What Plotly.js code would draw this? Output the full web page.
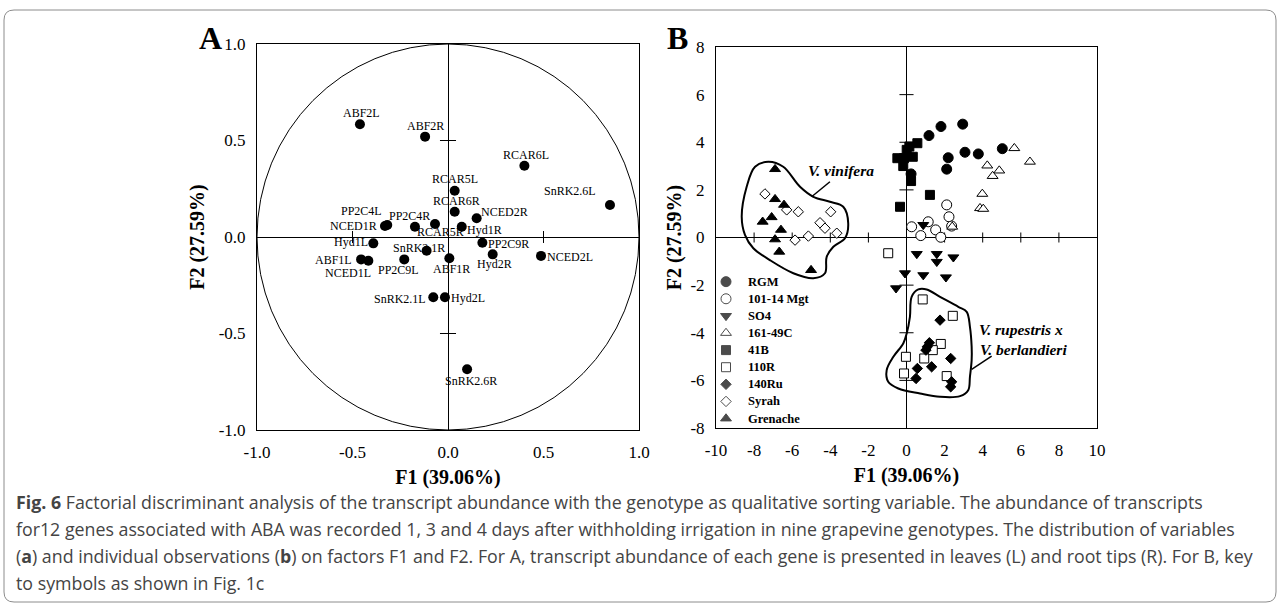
<!DOCTYPE html>
<html><head><meta charset="utf-8">
<script src="https://cdn.plot.ly/plotly-3.0.1.min.js"></script>
<style>html,body{margin:0;padding:0;background:#fff;} #chart{width:1281px;height:607px;}</style>
</head><body><div id="chart"></div>
<script>
// ---------- Panel A: variables on F1 / F2 ----------
const genesA = ['ABF2L','ABF2R','RCAR6L','SnRK2.6L','RCAR5L','RCAR6R','PP2C4L','NCED1R','PP2C4R','RCAR5R','Hyd1R','NCED2R','PP2C9R','Hyd2R','NCED2L','SnRK2.1R','ABF1R','PP2C9L','Hyd1L','ABF1L','NCED1L','SnRK2.1L','Hyd2L','SnRK2.6R'];
const f1A = [-0.461,-0.120,0.400,0.848,0.035,0.035,-0.318,-0.330,-0.173,-0.068,0.072,0.150,0.180,0.234,0.487,-0.112,0.007,-0.229,-0.391,-0.455,-0.417,-0.077,-0.016,0.100];
const f2A = [0.584,0.520,0.369,0.166,0.240,0.131,0.062,0.057,0.053,0.067,0.053,0.097,-0.030,-0.090,-0.098,-0.071,-0.110,-0.116,-0.033,-0.116,-0.123,-0.312,-0.312,-0.685];
// label offsets from each point (px, right / down)
const labelDx = [2,0,2,-40,0,2,-26,-31,-5,5,23,28,26,2,29,-8,2,-6,-22,-28,-20,-33,23,4];
const labelDy = [-11,-11,-11,-14,-12,-11,-14,0,-11,8,3,-6,1,10,1,-3,11,11,-1,1,12,2,1,12];
const tickValsA = [-1,-0.5,0,0.5,1];
const tickTextA = ['-1.0','-0.5','0.0','0.5','1.0'];
const crossTicksA = [-0.5,0.5];

// ---------- Panel B: observations on F1 / F2 ----------
const genotypes = ['RGM','101-14 Mgt','SO4','161-49C','41B','110R','140Ru','Syrah','Grenache'];
const rgmX = [1.18,1.81,2.95,2.19,2.11,3.07,3.77,5.03,0.24];
const rgmY = [4.28,4.66,4.76,3.35,2.87,3.58,3.51,3.73,2.67];
const mgtX = [2.11,2.23,1.14,0.27,0.75,1.53,1.80,2.37];
const mgtY = [1.37,0.87,0.66,0.45,0.08,0.32,0.01,0.48];
const so4X = [0.88,0.54,1.59,1.59,2.46,-0.08,0.88,2.07,-0.55];
const so4Y = [0.53,-0.69,-0.69,-1.02,-0.83,-1.50,-1.58,-1.67,-2.13];
const c161X = [5.66,6.48,4.24,4.87,4.52,3.98,3.86,4.03,2.40];
const c161Y = [3.75,3.18,3.02,2.81,2.58,1.83,1.23,1.20,0.45];
const b41X = [0.15,0.57,-0.48,-0.13,0.33,0.01,-0.17,0.24,1.23,-0.34];
const b41Y = [3.82,3.96,3.33,3.33,3.39,3.68,3.00,2.37,1.79,1.29];
const r110X = [-0.96,0.85,2.43,1.80,1.38,0.93,-0.03,-0.13,2.11];
const r110Y = [-0.66,-2.60,-3.29,-4.47,-4.73,-5.08,-5.01,-5.71,-5.82];
const ru140X = [1.76,1.20,1.09,1.02,2.32,1.32,0.57,0.50,2.37,2.32];
const ru140Y = [-3.47,-4.42,-4.59,-4.73,-5.08,-5.43,-5.50,-5.92,-6.06,-6.27];
const syrahX = [-7.43,-6.29,-5.68,-3.98,-4.54,-4.28,-3.66,-5.15,-5.85];
const syrahY = [1.83,1.16,1.08,1.08,0.62,0.39,0.18,0.06,-0.11];
const grenX = [-6.90,-6.90,-6.43,-7.55,-7.08,-6.59,-6.90,-6.68,-5.01];
const grenY = [2.87,1.61,1.37,0.66,0.85,0.32,-0.08,-0.60,-1.37];
const seriesX = [rgmX,mgtX,so4X,c161X,b41X,r110X,ru140X,syrahX,grenX];
const seriesY = [rgmY,mgtY,so4Y,c161Y,b41Y,r110Y,ru140Y,syrahY,grenY];
const symbolsB = ['circle','circle','triangle-down','triangle-up','square','square','diamond','diamond','triangle-up'];
const fillsB = ['black','white','black','white','black','white','black','white','black'];
const sizesB = [10,10,9.5,9.5,9,9,8,8,9.5];
const tickValsB_x = [-10,-8,-6,-4,-2,0,2,4,6,8,10];
const tickValsB_y = [-8,-6,-4,-2,0,2,4,6,8];
const crossTicksBx = [-8,-6,-4,-2,2,4,6,8];
const crossTicksBy = [-6,-4,-2,2,4,6];

// group outlines (hand-drawn envelopes in the figure)
const vinX = [-7.25,-7.95,-8.39,-8.65,-8.48,-8.04,-7.17,-5.94,-4.89,-4.28,-4.19,-3.84,-3.23,-3.06,-3.32,-4.02,-4.89,-5.59,-6.47,-7.25];
const vinY = [3.18,2.97,2.13,0.87,0.11,-0.45,-0.95,-1.50,-1.71,-1.50,-0.81,-0.39,-0.03,0.60,1.29,1.50,1.71,2.13,2.97,3.18];
const rupX = [0.62,1.06,1.76,2.72,3.16,3.33,3.42,3.42,3.33,3.24,2.81,1.76,0.71,-0.43,-0.96,-1.04,-0.69,-0.17,0.01,0.18,0.27,0.62];
const rupY = [-2.18,-2.18,-2.49,-2.91,-3.12,-3.75,-4.59,-5.15,-5.85,-6.41,-6.66,-6.69,-6.55,-6.34,-6.06,-5.57,-5.01,-4.45,-4.03,-3.33,-2.49,-2.18];

const captionLines = [
  '<b>Fig. 6</b> Factorial discriminant analysis of the transcript abundance with the genotype as qualitative sorting variable. The abundance of transcripts',
  'for12 genes associated with ABA was recorded 1, 3 and 4 days after withholding irrigation in nine grapevine genotypes. The distribution of variables',
  '(<b>a</b>) and individual observations (<b>b</b>) on factors F1 and F2. For A, transcript abundance of each gene is presented in leaves (L) and root tips (R). For B, key',
  'to symbols as shown in Fig. 1c'
];

// ---------- build ----------
const W = 1281, H = 607;
const serif = 'Liberation Serif, Times New Roman, serif';
const px = v => v / W, py = v => 1 - v / H;

const traces = [];
traces.push({
  type:'scatter', mode:'markers', x:f1A, y:f2A, text:genesA,
  xaxis:'x', yaxis:'y', marker:{color:'black', size:10}, hoverinfo:'text', showlegend:false, cliponaxis:false
});
traces.push({type:'scatter', mode:'lines', x:vinX, y:vinY, xaxis:'x2', yaxis:'y2', line:{color:'black', width:2, shape:'spline', smoothing:1}, hoverinfo:'skip', showlegend:false});
traces.push({type:'scatter', mode:'lines', x:rupX, y:rupY, xaxis:'x2', yaxis:'y2', line:{color:'black', width:2, shape:'spline', smoothing:1}, hoverinfo:'skip', showlegend:false});
genotypes.forEach((g,i) => {
  traces.push({
    type:'scatter', mode:'markers', name:g, x:seriesX[i], y:seriesY[i], xaxis:'x2', yaxis:'y2',
    marker:{symbol:symbolsB[i], color:fillsB[i], size:sizesB[i], line:{color:'black', width:1}},
    showlegend:false
  });
});
// legend key (symbols) in its own small axes
traces.push({
  type:'scatter', mode:'markers', x:genotypes.map(()=>10), y:genotypes.map((_,i)=>i),
  xaxis:'x3', yaxis:'y3', hoverinfo:'skip', showlegend:false, cliponaxis:false,
  marker:{symbol:symbolsB, color:fillsB, size:sizesB, line:{color:'black', width:1}}
});

const shapes = [];
shapes.push({type:'circle', xref:'x', yref:'y', x0:-1, x1:1, y0:-1, y1:1, line:{color:'black', width:1}, layer:'below'});
crossTicksA.forEach(v => {
  shapes.push({type:'line', xref:'x', yref:'y', x0:v, x1:v, y0:-0.031, y1:0.031, line:{color:'black', width:1}, layer:'below'});
  shapes.push({type:'line', xref:'x', yref:'y', y0:v, y1:v, x0:-0.042, x1:0.042, line:{color:'black', width:1}, layer:'below'});
});
crossTicksBx.forEach(v => shapes.push({type:'line', xref:'x2', yref:'y2', x0:v, x1:v, y0:-0.21, y1:0.21, line:{color:'black', width:1}, layer:'below'}));
crossTicksBy.forEach(v => shapes.push({type:'line', xref:'x2', yref:'y2', y0:v, y1:v, x0:-0.37, x1:0.37, line:{color:'black', width:1}, layer:'below'}));
// leader lines to group labels
shapes.push({type:'line', xref:'x2', yref:'y2', x0:-4.98, y0:1.71, x1:-4.02, y1:2.34, line:{color:'black', width:1.5}});
shapes.push({type:'line', xref:'x2', yref:'y2', x0:3.42, y0:-5.54, x1:4.47, y1:-4.98, line:{color:'black', width:1.5}});
// figure frame with rounded corners
(function(){
  const x0=px(4), x1=px(1276), yt=py(10), yb=py(602), rx=10/W, ry=10/H;
  const p = `M ${x0+rx},${yt} L ${x1-rx},${yt} Q ${x1},${yt} ${x1},${yt-ry} L ${x1},${yb+ry} Q ${x1},${yb} ${x1-rx},${yb} L ${x0+rx},${yb} Q ${x0},${yb} ${x0},${yb+ry} L ${x0},${yt-ry} Q ${x0},${yt} ${x0+rx},${yt} Z`;
  shapes.push({type:'path', xref:'paper', yref:'paper', path:p, line:{color:'#8c8c8c', width:1}});
})();

const annotations = [];
genesA.forEach((g,i) => annotations.push({
  xref:'x', yref:'y', x:f1A[i], y:f2A[i], text:g, showarrow:false, xshift:labelDx[i], yshift:-labelDy[i],
  xanchor:'center', yanchor:'middle', borderpad:0, font:{family:serif, size:12, color:'black'}
}));
annotations.push({xref:'paper', yref:'paper', x:px(211), y:py(38), text:'<b>A</b>', showarrow:false, font:{family:serif, size:32, color:'black'}, xanchor:'center', yanchor:'middle'});
annotations.push({xref:'paper', yref:'paper', x:px(677), y:py(38), text:'<b>B</b>', showarrow:false, font:{family:serif, size:32, color:'black'}, xanchor:'center', yanchor:'middle'});
annotations.push({xref:'x2', yref:'y2', x:-3.45, y:2.81, text:'<b><i>V. vinifera</i></b>', showarrow:false, font:{family:serif, size:15.5, color:'black'}, xanchor:'center', yanchor:'middle'});
annotations.push({xref:'x2', yref:'y2', x:3.68, y:-3.88, text:'<b><i>V. rupestris x</i></b>', showarrow:false, font:{family:serif, size:15.5, color:'black'}, xanchor:'left', yanchor:'middle'});
annotations.push({xref:'x2', yref:'y2', x:3.75, y:-4.72, text:'<b><i>V. berlandieri</i></b>', showarrow:false, font:{family:serif, size:15.5, color:'black'}, xanchor:'left', yanchor:'middle'});
genotypes.forEach((g,i) => annotations.push({xref:'x3', yref:'y3', x:30, y:i, text:'<b>'+g+'</b>', showarrow:false, font:{family:serif, size:12.5, color:'black'}, xanchor:'left', yanchor:'middle'}));
const capY = [502, 529, 556, 583];
captionLines.forEach((t,i) => annotations.push({xref:'paper', yref:'paper', x:px(14), y:py(capY[i]), text:t, showarrow:false, font:{family:'Open Sans, sans-serif', size:17.8, color:'#444'}, xanchor:'left', yanchor:'middle', align:'left'}));

const axBase = {showline:true, mirror:true, linecolor:'black', linewidth:1, showgrid:false, zeroline:true, zerolinecolor:'black', zerolinewidth:1, ticks:'', tickfont:{family:serif, size:17, color:'black'}, ticklabelstandoff:7, fixedrange:true};
const titleFont = {family:serif, size:20, color:'black'};

const layout = {
  width:W, height:H, margin:{l:0, r:0, t:0, b:0}, paper_bgcolor:'white', plot_bgcolor:'rgba(0,0,0,0)', showlegend:false,
  xaxis: Object.assign({}, axBase, {domain:[px(257), px(639)], range:[-1,1], anchor:'y', tickmode:'array', tickvals:tickValsA, ticktext:tickTextA, title:{text:'<b>F1 (39.06%)</b>', font:titleFont, standoff:8}}),
  yaxis: Object.assign({}, axBase, {domain:[py(430), py(44)], range:[-1,1], anchor:'x', tickmode:'array', tickvals:tickValsA, ticktext:tickTextA, title:{text:'<b>F2 (27.59%)</b>', font:titleFont, standoff:8}}),
  xaxis2: Object.assign({}, axBase, {domain:[px(716), px(1097)], range:[-10,10], anchor:'y2', tickmode:'array', tickvals:tickValsB_x, ticktext:tickValsB_x.map(String), title:{text:'<b>F1 (39.06%)</b>', font:titleFont, standoff:8}}),
  yaxis2: Object.assign({}, axBase, {domain:[py(428), py(47)], range:[-8,8], anchor:'x2', tickmode:'array', tickvals:tickValsB_y, ticktext:tickValsB_y.map(String), title:{text:'<b>F2 (27.59%)</b>', font:titleFont, standoff:3}}),
  xaxis3: {domain:[px(716), px(816)], range:[0,100], visible:false, fixedrange:true, anchor:'y3'},
  yaxis3: {domain:[py(427.1), py(273.1)], range:[8.5,-0.5], visible:false, fixedrange:true, anchor:'x3'},
  shapes: shapes, annotations: annotations
};

Plotly.newPlot('chart', traces, layout, {displayModeBar:false, staticPlot:true});
</script>
</body></html>
